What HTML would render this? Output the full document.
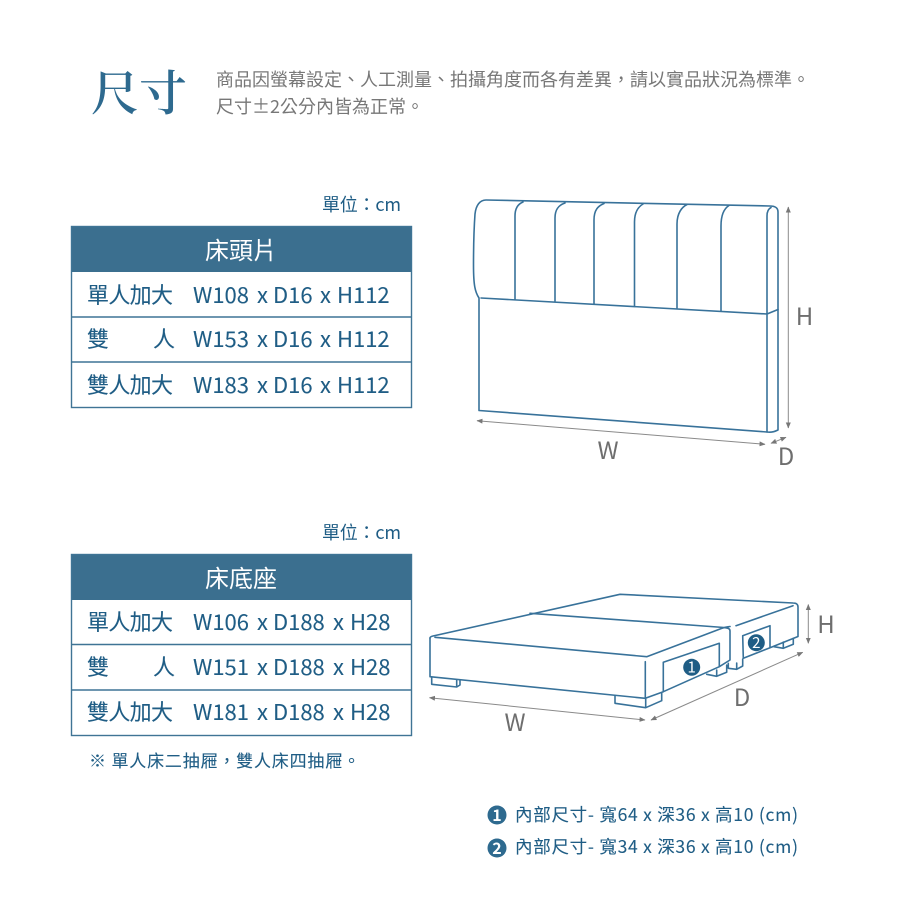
<!DOCTYPE html>
<html><head><meta charset="utf-8"><style>
html,body{margin:0;padding:0;background:#fff}
svg{display:block}
text{font-family:"Noto Sans CJK TC","Liberation Sans",sans-serif}
.t{fill:#1f5d85;font-size:22px;stroke:#1f5d85;stroke-width:.1}
.h{fill:#fff;font-size:24px}
.g{fill:#777;font-size:18px}
.d{fill:#6e6e6e;font-size:24px;text-anchor:middle}
.l{fill:none;stroke:#38729a;stroke-width:1.6;stroke-linejoin:round;stroke-linecap:round}
.a{fill:none;stroke:#8a8a8a;stroke-width:1}
.n{fill:#1f5d85;font-size:17.5px;stroke:#1f5d85;stroke-width:.1}
</style></head><body>
<svg width="900" height="900" viewBox="0 0 900 900" xmlns="http://www.w3.org/2000/svg">
<defs><marker id="m" viewBox="0 0 6 6" refX="5.5" refY="3" markerWidth="6" markerHeight="6" orient="auto-start-reverse" markerUnits="userSpaceOnUse"><path d="M0 0.5L6 3L0 5.5z" fill="#777"/></marker></defs>

<text x="91" y="110" font-size="48" fill="#2e6a8f" textLength="96" lengthAdjust="spacing" style="font-family:'Noto Serif CJK SC','Noto Serif CJK TC',serif;font-weight:600">尺寸</text>
<text class="g" x="216" y="86" textLength="594" lengthAdjust="spacing">商品因螢幕設定、人工測量、拍攝角度而各有差異&#xFF0C;請以實品狀況為標準。</text>
<text class="g" x="216" y="113" textLength="208" lengthAdjust="spacing">尺寸±2公分內皆為正常。</text>

<text x="322" y="211" font-size="18" fill="#1f5d85" textLength="79" lengthAdjust="spacing">單位&#xFF1A;cm</text>
<rect x="71" y="226" width="341" height="46" fill="#3b6f8f"/>
<rect x="71.5" y="226.5" width="340" height="181" fill="none" stroke="#3f7495" stroke-width="1.4"/>
<path d="M71 317H412M71 362H412" stroke="#3f7495" stroke-width="1.4"/>
<text class="h" x="205" y="259" textLength="72" lengthAdjust="spacing">床頭片</text>
<text class="t" x="87" y="303" textLength="86" lengthAdjust="spacing">單人加大</text>
<text class="t" y="303"><tspan x="193">W108</tspan><tspan x="257">x</tspan><tspan x="273">D16</tspan><tspan x="320">x</tspan><tspan x="337">H112</tspan></text>
<text class="t" x="87" y="347">雙</text><text class="t" x="153" y="347">人</text>
<text class="t" y="347"><tspan x="193">W153</tspan><tspan x="257">x</tspan><tspan x="273">D16</tspan><tspan x="320">x</tspan><tspan x="337">H112</tspan></text>
<text class="t" x="87" y="393" textLength="86" lengthAdjust="spacing">雙人加大</text>
<text class="t" y="393"><tspan x="193">W183</tspan><tspan x="257">x</tspan><tspan x="273">D16</tspan><tspan x="320">x</tspan><tspan x="337">H112</tspan></text>

<text x="322" y="539" font-size="18" fill="#1f5d85" textLength="79" lengthAdjust="spacing">單位&#xFF1A;cm</text>
<rect x="71" y="554" width="341" height="46" fill="#3b6f8f"/>
<rect x="71.5" y="554.5" width="340" height="181" fill="none" stroke="#3f7495" stroke-width="1.4"/>
<path d="M71 644.500H412M71 690H412" stroke="#3f7495" stroke-width="1.4"/>
<text class="h" x="205" y="587" textLength="72" lengthAdjust="spacing">床底座</text>
<text class="t" x="87" y="630" textLength="86" lengthAdjust="spacing">單人加大</text>
<text class="t" y="630"><tspan x="193">W106</tspan><tspan x="257">x</tspan><tspan x="273">D188</tspan><tspan x="333">x</tspan><tspan x="350">H28</tspan></text>
<text class="t" x="87" y="675">雙</text><text class="t" x="153" y="675">人</text>
<text class="t" y="675"><tspan x="193">W151</tspan><tspan x="257">x</tspan><tspan x="273">D188</tspan><tspan x="333">x</tspan><tspan x="350">H28</tspan></text>
<text class="t" x="87" y="720" textLength="86" lengthAdjust="spacing">雙人加大</text>
<text class="t" y="720"><tspan x="193">W181</tspan><tspan x="257">x</tspan><tspan x="273">D188</tspan><tspan x="333">x</tspan><tspan x="350">H28</tspan></text>
<text x="89" y="767" font-size="17" fill="#1f5d85" stroke="#1f5d85" stroke-width=".1" textLength="271" lengthAdjust="spacing">※ 單人床二抽屜&#xFF0C;雙人床四抽屜。</text>

<!-- headboard -->
<path class="l" d="M479 298C475 292 473.500 285 473.500 265C473.500 245 474 228 475 214C476 205 480 200 486 200L770 206C775 206 778 208 778 212V430C774 432 770 432.500 767 432L479 410.500V298"/>
<path class="l" d="M481 298L767 314L778 309.500M767 432V216C767 212 768 209 771 207.500"/>
<path class="l" d="M515 299V216C515 208 518 204 523 202M555 301V218C555 209 559 205 565 203M594 304V220C594 210 598 206 604 203.500M634.500 306V222C634.500 212 638 207 643 204M677 308V224C677 213 682 207 687 204.500M721 311V226C721 214 725 208 729 205.500"/>
<path class="a" d="M788.300 207V428" marker-start="url(#m)" marker-end="url(#m)" stroke-width="1.500"/>
<path class="a" d="M477 420.700L765 444.300" marker-start="url(#m)" marker-end="url(#m)"/>
<path class="a" d="M771 443.300L786 437.300" marker-start="url(#m)" marker-end="url(#m)"/>
<text class="d" x="804.500" y="325">H</text>
<text class="d" x="608" y="459">W</text>
<text class="d" x="786" y="465">D</text>

<!-- base -->
<path class="l" d="M430 638C430 637 431 636.500 433 636L620 594.300L793 603C796 603 798 604 798 607V636.500L770 647.700L743.300 658.300L742.700 635.700L770 625.700V647.700M736 625.700L793 605.700"/>
<path class="l" d="M435 637.300L646.700 656.700L722 628.300C725 627 727 627 730 626.500M530 613.300L724 627.500C727 628 730 628 730 631V660L719.300 666.700L663.300 691.700V662.300L719.300 643.300V666.700"/>
<path class="l" d="M430 638V676.700L645.300 698.300L663.300 691.700M645.300 661.700V698.300"/>
<path class="l" d="M431.700 677.300V684.300L456.700 687L460 685V680M456.700 680.300V687"/>
<path class="l" d="M615 695.700V703.300L645.700 707.700L661.700 700.700V693.300M645.700 698.300V707.700"/>
<path class="l" d="M706.700 674.300L716.700 676.300L726.700 672.300V665M716.700 676.300V670"/>
<path class="l" d="M728.300 663.300V668.300L736.700 669.300L742.700 666V659M736.700 669.300V663"/>
<path class="l" d="M774 646.700L783.300 648.300L793.300 644.300V638.300M783.300 648.300V642"/>
<circle cx="691.700" cy="667.300" r="8.500" fill="#1f5d85"/><text x="691.700" y="672.700" font-size="15" fill="#fff" text-anchor="middle">1</text>
<circle cx="756.300" cy="642.700" r="8.500" fill="#1f5d85"/><text x="756.300" y="648" font-size="15" fill="#fff" text-anchor="middle">2</text>
<path class="a" d="M429.500 697.700L645 720" marker-start="url(#m)" marker-end="url(#m)"/>
<path class="a" d="M651 720L802.700 652.300" marker-start="url(#m)" marker-end="url(#m)"/>
<path class="a" d="M808.300 604.500V643.300" marker-start="url(#m)" marker-end="url(#m)"/>
<text class="d" x="826" y="633">H</text>
<text class="d" x="742" y="706">D</text>
<text class="d" x="515" y="731">W</text>

<!-- notes -->
<circle cx="497" cy="815" r="9.500" fill="#2e6a8f"/><text x="497" y="820.800" font-size="16" fill="#fff" text-anchor="middle" font-weight="700">1</text>
<circle cx="497" cy="848" r="9.500" fill="#2e6a8f"/><text x="497" y="853.800" font-size="16" fill="#fff" text-anchor="middle" font-weight="700">2</text>
<text class="n" x="515" y="821" textLength="283" lengthAdjust="spacing">內部尺寸- 寬64 x 深36 x 高10 (cm)</text>
<text class="n" x="515" y="853" textLength="283" lengthAdjust="spacing">內部尺寸- 寬34 x 深36 x 高10 (cm)</text>
</svg>
</body></html>
